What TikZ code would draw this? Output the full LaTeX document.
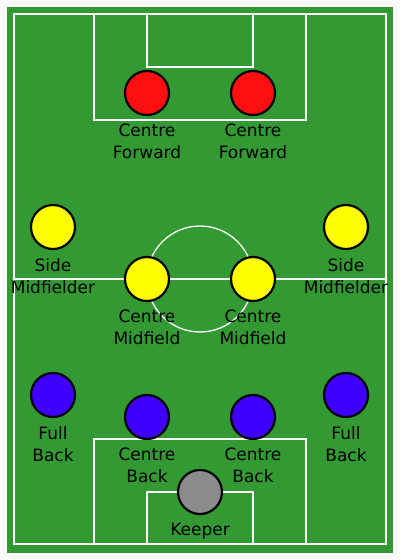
\documentclass[tikz,border=0pt]{standalone}
\usepackage{fontspec}
\setmainfont{DejaVu Sans}
\usepackage{xcolor}
\usetikzlibrary{positioning}

\definecolor{pitchgreen}{RGB}{51,153,51}
\definecolor{fwdred}{RGB}{255,15,15}
\definecolor{midyellow}{RGB}{255,255,0}
\definecolor{defblue}{RGB}{64,0,255}
\definecolor{keepgrey}{RGB}{140,140,140}

\begin{document}
\begin{tikzpicture}[x=1pt,y=-1pt,
    pitchline/.style={draw=white,line width=1.3pt},
    player/.style={circle,draw=black,line width=2.2pt,minimum size=44pt,inner sep=0pt},
    role/.style={align=center,inner sep=0pt,font={\fontsize{17}{22}\selectfont}}]
    \useasboundingbox (0,0) rectangle (400,560);
    \fill[white] (0,0) rectangle (400,560);
    \fill[pitchgreen] (7,7) rectangle (393,553);
    % markings
    \draw[pitchline] (14,14) rectangle (386,544);
    \draw[pitchline] (94,14) rectangle (306,120);
    \draw[pitchline] (147,14) rectangle (253,67);
    \draw[pitchline] (94,544) rectangle (306,439);
    \draw[pitchline] (147,544) rectangle (253,492);
    \draw[pitchline] (14,279) -- (386,279);
    \draw[pitchline] (200,279) circle[radius=53pt];
    % players
    \foreach \nm/\px/\py/\col/\txt in {
        cfl/147/93/fwdred/{Centre\\Forward},
        cfr/253/93/fwdred/{Centre\\Forward},
        sml/53/227/midyellow/{Side\\Midfielder},
        smr/346/227/midyellow/{Side\\Midfielder},
        cml/147/279/midyellow/{Centre\\Midfield},
        cmr/253/279/midyellow/{Centre\\Midfield},
        fbl/53/395/defblue/{Full\\Back},
        fbr/346/395/defblue/{Full\\Back},
        cbl/147/417/defblue/{Centre\\Back},
        cbr/253/417/defblue/{Centre\\Back},
        gk/200/492/keepgrey/{Keeper}} {
      \node[player,fill=\col] (\nm) at (\px,\py) {};
      \node[role,below=8pt of \nm] (\nm-text) {\txt};
    }
\end{tikzpicture}
\end{document}
